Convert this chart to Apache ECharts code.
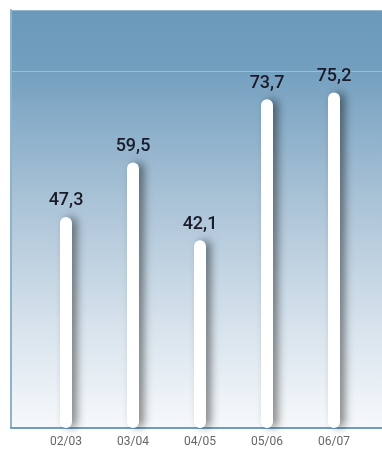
<!DOCTYPE html>
<html><head><meta charset="utf-8">
<script src="https://cdn.jsdelivr.net/npm/echarts@6/dist/echarts.min.js"></script>
<style>html,body{margin:0;padding:0;background:#fff}#c{width:382px;height:452px}</style>
</head><body><div id="c"></div>
<script>
const categories = ['02/03','03/04','04/05','05/06','06/07'];
const values = [47.3, 59.5, 42.1, 73.7, 75.2];
const yMax = 93.7;
const refLine = 80;

const chart = echarts.init(document.getElementById('c'));
chart.setOption({
  animation: false,
  grid: [
    {left: 11, right: 0, top: 10, bottom: 24, show: true, borderWidth: 0,
     backgroundColor: new echarts.graphic.LinearGradient(0,0,0,1,[
       {offset:0, color:'#6a99ba'},
       {offset:0.14, color:'#739fbf'},
       {offset:0.45, color:'#a9c2d6'},
       {offset:0.75, color:'#d6e2ec'},
       {offset:1, color:'#f6f9fb'}
     ])},
    {left: 32.5, width: 335, top: 10, bottom: 24}
  ],
  xAxis: [
    {gridIndex: 0, type: 'value', min: 0, max: 1, show: true,
     axisLine: {show: true, lineStyle: {color: '#6f9dc1', width: 2}},
     axisTick: {show: false}, axisLabel: {show: false}, splitLine: {show: false}},
    {gridIndex: 1, type: 'category', data: categories,
     axisLine: {show: false}, axisTick: {show: false},
     axisLabel: {color: '#666', fontSize: 12, fontFamily: 'Roboto', margin: 8}}
  ],
  yAxis: [
    {gridIndex: 0, type: 'value', min: 0, max: yMax, interval: refLine,
     axisLine: {show: true, lineStyle: {color: '#8fb3cf', width: 2}},
     axisTick: {show: false}, axisLabel: {show: false},
     splitLine: {show: true, lineStyle: {color: 'rgba(255,255,255,0.3)', width: 1}}},
    {gridIndex: 1, type: 'value', min: 0, max: yMax, show: false}
  ],
  series: [{
    type: 'bar', xAxisIndex: 1, yAxisIndex: 1, data: values, barWidth: 12,
    itemStyle: {color: '#fff', borderRadius: 6,
      shadowColor: 'rgba(0,0,0,0.45)', shadowBlur: 9, shadowOffsetX: 5, shadowOffsetY: 0},
    label: {show: true, position: 'top', distance: 7, color: '#1a1a28',
      fontSize: 18, fontFamily: 'Roboto', fontWeight: 500,
      formatter: p => String(p.value).replace('.', ',')}
  }]
});
</script></body></html>
